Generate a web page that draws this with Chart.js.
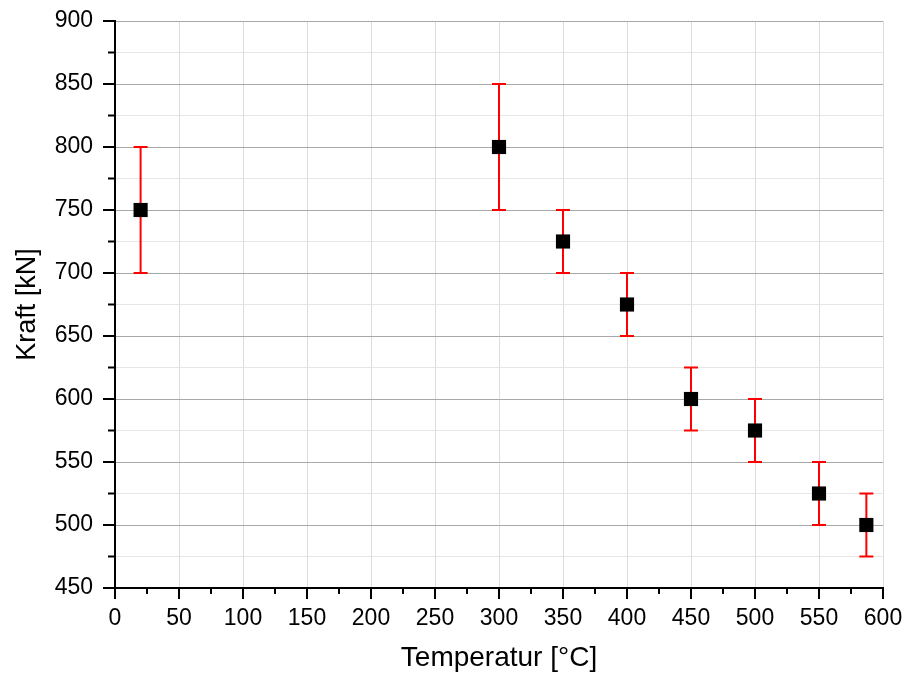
<!DOCTYPE html>
<html>
<head>
<meta charset="utf-8">
<script src="https://cdn.jsdelivr.net/npm/chart.js@4/dist/chart.umd.min.js"></script>
<style>
  html, body { margin: 0; padding: 0; background: #fff; }
  #wrap { width: 904px; height: 675px; }
</style>
</head>
<body>
<div id="wrap"><canvas id="forceChart"></canvas></div>
<script>
// Kraft vs. Temperatur with error bars
const temps = [20, 300, 350, 400, 450, 500, 550, 587];
const force = [750, 800, 725, 675, 600, 575, 525, 500];
const errs  = [50, 50, 25, 25, 25, 25, 25, 25];
const xTicks = [0, 600, 25];   // min, max, step
const yTicks = [450, 900, 25];

const FONT = "'Liberation Sans', Arial, sans-serif";

// error bars behind the squares
const errorBars = {
  id: 'errorBars',
  beforeDatasetsDraw(chart) {
    const { ctx, scales: { x, y } } = chart;
    ctx.save();
    ctx.strokeStyle = '#ff0000';
    ctx.lineWidth = 2;
    temps.forEach((t, i) => {
      const px = x.getPixelForValue(t);
      const top = y.getPixelForValue(force[i] + errs[i]);
      const bot = y.getPixelForValue(force[i] - errs[i]);
      ctx.beginPath();
      ctx.moveTo(px, top); ctx.lineTo(px, bot);
      ctx.moveTo(px - 7, top); ctx.lineTo(px + 7, top);
      ctx.moveTo(px - 7, bot); ctx.lineTo(px + 7, bot);
      ctx.stroke();
    });
    ctx.restore();
  }
};

// outward major/minor tick marks
const tickMarks = {
  id: 'tickMarks',
  afterDraw(chart) {
    const { ctx, scales: { x, y } } = chart;
    ctx.save();
    ctx.strokeStyle = '#000';
    ctx.lineWidth = 2;
    ctx.beginPath();
    x.ticks.forEach(t => {
      const px = x.getPixelForValue(t.value);
      const len = t.value % 50 === 0 ? 11 : 6;
      ctx.moveTo(px, y.bottom); ctx.lineTo(px, y.bottom + len);
    });
    y.ticks.forEach(t => {
      const py = y.getPixelForValue(t.value);
      const len = t.value % 50 === 0 ? 12 : 7;
      ctx.moveTo(x.left, py); ctx.lineTo(x.left - len, py);
    });
    ctx.stroke();
    ctx.restore();
  }
};

new Chart(document.getElementById('forceChart'), {
  type: 'scatter',
  data: {
    datasets: [{
      label: 'Kraft',
      data: temps.map((t, i) => ({ x: t, y: force[i] })),
      pointStyle: 'rect',
      pointRadius: 10,
      pointHoverRadius: 10,
      borderWidth: 0,
      backgroundColor: '#000',
      borderColor: '#000'
    }]
  },
  options: {
    responsive: true,
    maintainAspectRatio: false,
    animation: false,
    layout: { padding: { top: 21, right: 21, left: 0, bottom: 0 } },
    plugins: { legend: { display: false }, tooltip: { enabled: false } },
    scales: {
      x: {
        type: 'linear',
        min: xTicks[0], max: xTicks[1],
        afterFit: s => { s.height = 87; s.paddingLeft = 0; s.paddingRight = 0; },
        border: { color: '#000', width: 2 },
        grid: {
          drawTicks: false,
          color: c => c.tick && c.tick.value % 50 === 0 ? '#dcdcdc' : 'rgba(0,0,0,0)',
          lineWidth: 1
        },
        ticks: {
          stepSize: xTicks[2],
          autoSkip: false,
          maxRotation: 0,
          padding: 17,
          color: '#000',
          font: { family: FONT, size: 23 },
          callback: v => v % 50 === 0 ? v : ''
        },
        title: {
          display: true,
          text: 'Temperatur [°C]',
          color: '#000',
          font: { family: FONT, size: 28 },
          padding: { top: 0, bottom: 0 }
        }
      },
      y: {
        type: 'linear',
        min: yTicks[0], max: yTicks[1],
        afterFit: s => { s.width = 115; s.paddingTop = 0; s.paddingBottom = 0; },
        border: { color: '#000', width: 2 },
        grid: {
          drawTicks: false,
          color: c => c.tick && c.tick.value % 50 === 0 ? '#a8a8a8' : '#e6e6e6',
          lineWidth: 1
        },
        ticks: {
          stepSize: yTicks[2],
          autoSkip: false,
          padding: 22,
          color: '#000',
          font: { family: FONT, size: 23 },
          callback: v => v % 50 === 0 ? v : ''
        },
        title: {
          display: true,
          text: 'Kraft [kN]',
          color: '#000',
          font: { family: FONT, size: 27 },
          padding: { top: 11, bottom: 0 }
        }
      }
    }
  },
  plugins: [errorBars, tickMarks]
});
</script>
</body>
</html>
